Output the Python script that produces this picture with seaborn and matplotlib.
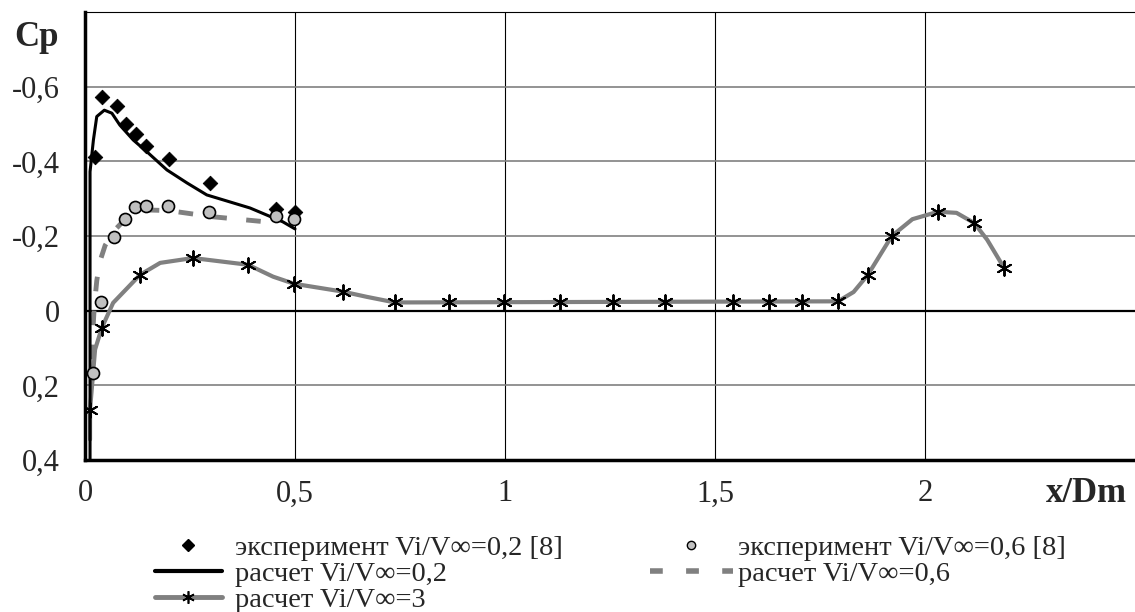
import matplotlib
matplotlib.use("Agg")
import matplotlib.pyplot as plt
import seaborn as sns
from matplotlib.lines import Line2D

# experiment Vi/V=0.2 (diamonds)
exp02_x = [0.024, 0.040, 0.075, 0.098, 0.121, 0.145, 0.200, 0.298, 0.455, 0.500]
exp02_y = [-0.412, -0.572, -0.548, -0.500, -0.473, -0.441, -0.406, -0.342, -0.272, -0.264]

# experiment Vi/V=0.6 (circles)
exp06_x = [0.020, 0.038, 0.070, 0.096, 0.119, 0.145, 0.197, 0.296, 0.455, 0.498]
exp06_y = [0.167, -0.024, -0.196, -0.246, -0.277, -0.281, -0.281, -0.265, -0.254, -0.246]

# calculation Vi/V=0.2 (black solid)
calc02_x = [0.012, 0.012, 0.020, 0.028, 0.046, 0.064, 0.083, 0.115, 0.148, 0.195, 0.243, 0.290, 0.393, 0.471, 0.500]
calc02_y = [0.400, -0.372, -0.457, -0.520, -0.537, -0.529, -0.497, -0.457, -0.425, -0.377, -0.342, -0.310, -0.275, -0.238, -0.219]

# calculation Vi/V=0.6 (grey dashed)
calc06_x = [0.017, 0.019, 0.022, 0.028, 0.035, 0.048, 0.070, 0.100, 0.140, 0.200, 0.300, 0.430]
calc06_y = [0.130, 0.050, -0.010, -0.080, -0.130, -0.175, -0.215, -0.250, -0.270, -0.268, -0.252, -0.238]

# calculation Vi/V=3 (grey curve) and its star markers
calc3_x = [0.012, 0.012, 0.024, 0.040, 0.067, 0.131, 0.179, 0.257, 0.388, 0.448, 0.498, 0.614, 0.671,
           0.738, 1.793, 1.830, 1.864, 1.921, 1.970, 2.031, 2.075, 2.117, 2.148, 2.188]
calc3_y = [0.345, 0.265, 0.104, 0.046, -0.021, -0.096, -0.128, -0.141, -0.123, -0.091, -0.072, -0.051, -0.037,
           -0.022, -0.025, -0.050, -0.096, -0.200, -0.245, -0.265, -0.262, -0.235, -0.190, -0.115]
star_x = [0.012, 0.040, 0.131, 0.257, 0.388, 0.498, 0.614, 0.738, 0.867, 0.998, 1.131, 1.257, 1.381,
          1.543, 1.629, 1.707, 1.793, 1.864, 1.921, 2.031, 2.117, 2.188]
star_y = [0.265, 0.046, -0.096, -0.141, -0.123, -0.072, -0.051, -0.022, -0.022, -0.022, -0.022, -0.022, -0.022,
          -0.022, -0.022, -0.022, -0.025, -0.096, -0.200, -0.265, -0.235, -0.115]

x_ticks = [0, 0.5, 1, 1.5, 2]
x_labels = ["0", "0,5", "1", "1,5", "2"]
y_ticks = [-0.6, -0.4, -0.2, 0, 0.2, 0.4]
y_labels = ["-0,6", "-0,4", "-0,2", "0", "0,2", "0,4"]

labels = ["эксперимент Vi/V∞=0,2 [8]", "расчет Vi/V∞=0,2", "расчет Vi/V∞=3",
          "эксперимент Vi/V∞=0,6 [8]", "расчет Vi/V∞=0,6"]

GREY = "#808080"

sns.set_style("white")
plt.rcParams['font.family'] = ['Liberation Serif', 'DejaVu Serif']

fig = plt.figure(figsize=(11.35, 6.12), dpi=100)
ax = fig.add_axes([85 / 1135, 1 - 460 / 612, 1 - 85 / 1135, 448 / 612])

# grid
for v in [0.5, 1, 1.5, 2]:
    ax.axvline(v, color="black", lw=0.8, zorder=0)
for v in [-0.6, -0.4, -0.2, 0.2]:
    ax.axhline(v, color=GREY, lw=1.2, zorder=0)
ax.axhline(0, color="black", lw=1.6, zorder=1)

sns.lineplot(x=calc3_x, y=calc3_y, sort=False, estimator=None, color=GREY, lw=3, ax=ax, zorder=2)
sns.lineplot(x=calc06_x, y=calc06_y, sort=False, estimator=None, color=GREY, lw=3.5,
             dashes=False, ax=ax, zorder=2).lines[-1].set_linestyle((0, (3, 4)))
sns.lineplot(x=calc02_x, y=calc02_y, sort=False, estimator=None, color="black", lw=2.2, ax=ax, zorder=3)

sns.scatterplot(x=star_x, y=star_y, marker=(6, 2, 0), s=110, color="black", linewidth=1.4, ax=ax, zorder=4)
sns.scatterplot(x=exp02_x, y=exp02_y, marker="D", s=55, color="black", edgecolor="black", ax=ax, zorder=5)
sns.scatterplot(x=exp06_x, y=exp06_y, marker="o", s=75, color="#c0c0c0", edgecolor="black",
                linewidth=1.2, ax=ax, zorder=6)

ax.set_xlim(0, 2.5)
ax.set_ylim(0.4, -0.8)
ax.set_xticks(x_ticks)
ax.set_xticklabels(x_labels)
ax.set_yticks(y_ticks)
ax.set_yticklabels(y_labels)
ax.tick_params(axis="both", length=0, labelsize=22)
ax.tick_params(axis="y", pad=18)
ax.tick_params(axis="x", pad=14)
ax.set_xlabel("")
ax.set_ylabel("")

ax.spines["right"].set_visible(False)
ax.spines["left"].set_linewidth(2.5)
ax.spines["bottom"].set_linewidth(2.5)
ax.spines["top"].set_linewidth(0.8)
for s in ["left", "bottom", "top"]:
    ax.spines[s].set_color("black")

fig.text(36 / 1135, 1 - 37 / 612, "Cp", fontsize=25, fontweight="bold", ha="center", va="center")
fig.text(1127 / 1135, 1 - 493 / 612, "x/Dm", fontsize=25, fontweight="bold", ha="right", va="center")

h1 = Line2D([], [], ls="none", marker="D", color="black", ms=6)
h2 = Line2D([], [], color="black", lw=3)
h3 = Line2D([], [], color=GREY, lw=3.5, marker=(6, 2, 0), mec="black", mfc="black", ms=9, mew=1.2)
h4 = Line2D([], [], ls="none", marker="o", mfc="#c0c0c0", mec="black", ms=6)
h5 = Line2D([], [], color=GREY, lw=4, ls=(0, (2.3, 4.2)))

leg_kw = dict(loc="upper left", frameon=False, fontsize=20.5, labelspacing=0,
              borderpad=0, borderaxespad=0)
fig.legend(handles=[h1, h2, h3], labels=labels[:3], bbox_to_anchor=(155 / 1135, 1 - 535 / 612),
           handlelength=2.35, handletextpad=0.45, **leg_kw)
fig.legend(handles=[h4, h5], labels=labels[3:], bbox_to_anchor=(650 / 1135, 1 - 535 / 612),
           handlelength=2.9, handletextpad=0.2, **leg_kw)

fig.savefig("out.png", dpi=100)
